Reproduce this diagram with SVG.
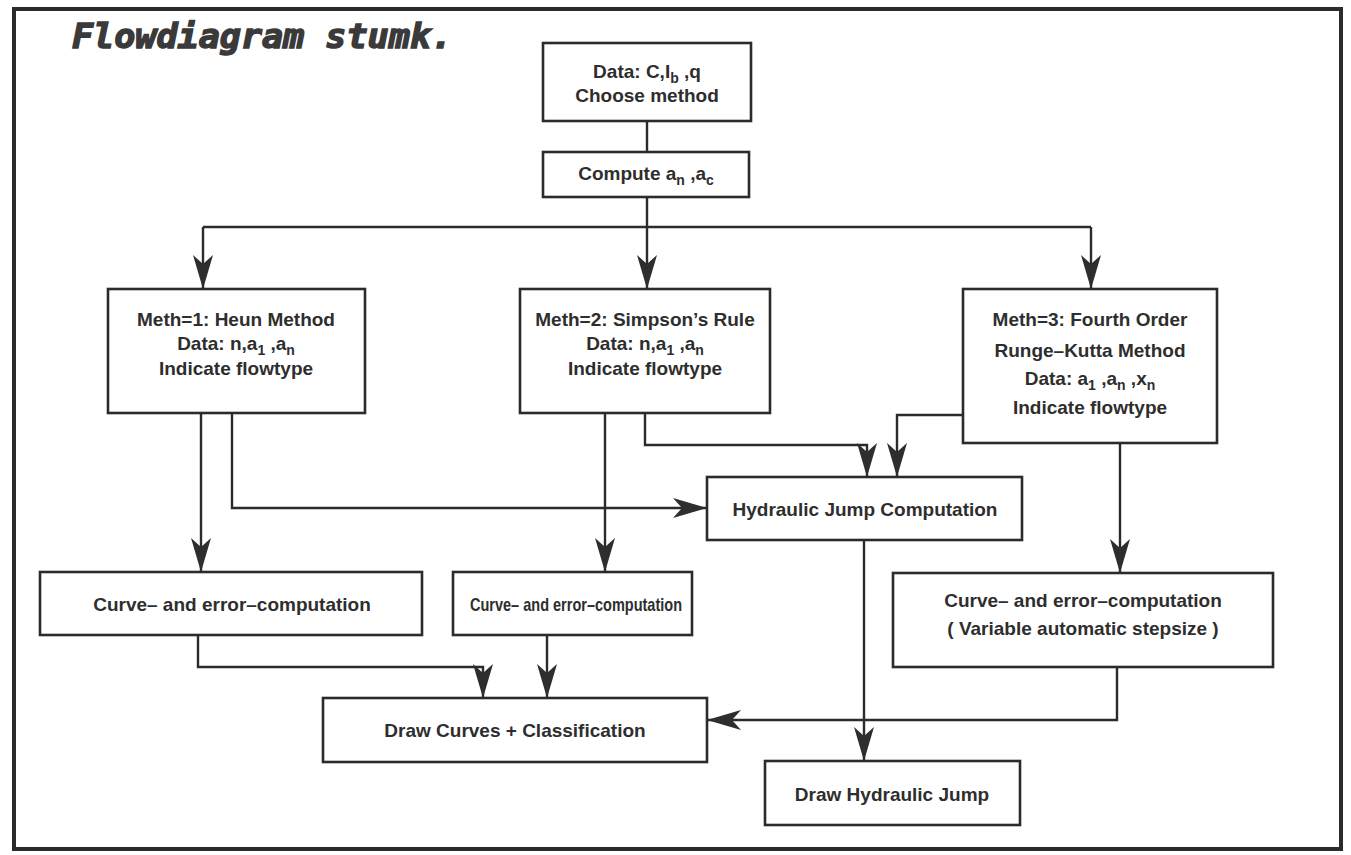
<svg xmlns="http://www.w3.org/2000/svg" width="1351" height="855" viewBox="0 0 1351 855">
  <style>
    .box { fill: #ffffff; stroke: #2b2b2b; stroke-width: 2.6; }
    .wire { fill: none; stroke: #2b2b2b; stroke-width: 2.4; }
    .lbl { font-family: "Liberation Sans", Arial, sans-serif; font-weight: bold; font-size: 19px; fill: #2e2e2e; text-anchor: middle; }
    .sub { font-size: 14px; }
    .title { font-family: "DejaVu Sans Mono", "Liberation Mono", monospace; font-weight: bold; font-style: italic; font-size: 33px; fill: #3a3a3a; stroke: #3a3a3a; stroke-width: 1.4; }
  </style>
  <defs>
    <marker id="arrow" markerUnits="userSpaceOnUse" viewBox="-36 -11 38 22" refX="0" refY="0" markerWidth="38" markerHeight="22" orient="auto">
      <path d="M0,0 L-34,-10 L-25,0 L-34,10 Z" fill="#2e2e2e"/>
    </marker>
  </defs>

  <rect width="1351" height="855" fill="#ffffff"/>
  <!-- frame -->
  <rect x="14" y="9" width="1327" height="840" fill="none" stroke="#2b2b2b" stroke-width="4"/>

  <text class="title" x="72" y="48" textLength="380" lengthAdjust="spacingAndGlyphs">Flowdiagram stumk.</text>

  <!-- connectors -->
  <g id="connectors">
    <path class="wire" d="M647,121 L647,152"/>
    <path class="wire" d="M647,197 L647,289" marker-end="url(#arrow)"/>
    <path class="wire" d="M203,227 L1091,227"/>
    <path class="wire" d="M203,227 L203,289" marker-end="url(#arrow)"/>
    <path class="wire" d="M1091,227 L1091,289" marker-end="url(#arrow)"/>
    <path class="wire" d="M201,413 L201,572" marker-end="url(#arrow)"/>
    <path class="wire" d="M232,413 L232,508 L707,508" marker-end="url(#arrow)"/>
    <path class="wire" d="M605,413 L605,572" marker-end="url(#arrow)"/>
    <path class="wire" d="M645,413 L645,445 L867,445 L867,477" marker-end="url(#arrow)"/>
    <path class="wire" d="M963,415 L897,415 L897,477" marker-end="url(#arrow)"/>
    <path class="wire" d="M1120,443 L1120,573" marker-end="url(#arrow)"/>
    <path class="wire" d="M864,540 L864,761" marker-end="url(#arrow)"/>
    <path class="wire" d="M198,635 L198,667 L483,667 L483,698" marker-end="url(#arrow)"/>
    <path class="wire" d="M547,635 L547,698" marker-end="url(#arrow)"/>
    <path class="wire" d="M1117,667 L1117,720 L707,720" marker-end="url(#arrow)"/>
  </g>

  <g id="data-input">
    <rect class="box" x="543" y="43" width="208" height="78"/>
    <text class="lbl" x="647" y="78">Data: C,I<tspan class="sub" dy="5">b</tspan><tspan dy="-5"> ,q</tspan></text>
    <text class="lbl" x="647" y="102">Choose method</text>
  </g>

  <g id="compute">
    <rect class="box" x="543" y="152" width="206" height="45"/>
    <text class="lbl" x="646" y="180">Compute a<tspan class="sub" dy="5">n</tspan><tspan dy="-5"> ,a</tspan><tspan class="sub" dy="5">c</tspan></text>
  </g>

  <g id="meth1">
    <rect class="box" x="108" y="289" width="257" height="124"/>
    <text class="lbl" x="236" y="326">Meth=1: Heun Method</text>
    <text class="lbl" x="236" y="350">Data: n,a<tspan class="sub" dy="5">1</tspan><tspan dy="-5"> ,a</tspan><tspan class="sub" dy="5">n</tspan></text>
    <text class="lbl" x="236" y="375">Indicate flowtype</text>
  </g>

  <g id="meth2">
    <rect class="box" x="520" y="289" width="250" height="124"/>
    <text class="lbl" x="645" y="326">Meth=2: Simpson’s Rule</text>
    <text class="lbl" x="645" y="350">Data: n,a<tspan class="sub" dy="5">1</tspan><tspan dy="-5"> ,a</tspan><tspan class="sub" dy="5">n</tspan></text>
    <text class="lbl" x="645" y="375">Indicate flowtype</text>
  </g>

  <g id="meth3">
    <rect class="box" x="963" y="289" width="254" height="154"/>
    <text class="lbl" x="1090" y="326">Meth=3: Fourth Order</text>
    <text class="lbl" x="1090" y="357">Runge–Kutta Method</text>
    <text class="lbl" x="1090" y="385">Data: a<tspan class="sub" dy="5">1</tspan><tspan dy="-5"> ,a</tspan><tspan class="sub" dy="5">n</tspan><tspan dy="-5"> ,x</tspan><tspan class="sub" dy="5">n</tspan></text>
    <text class="lbl" x="1090" y="414">Indicate flowtype</text>
  </g>

  <g id="hydraulic-jump">
    <rect class="box" x="707" y="477" width="315" height="63"/>
    <text class="lbl" x="865" y="516">Hydraulic Jump Computation</text>
  </g>

  <g id="curve1">
    <rect class="box" x="40" y="572" width="382" height="63"/>
    <text class="lbl" x="232" y="611">Curve– and error–computation</text>
  </g>

  <g id="curve2">
    <rect class="box" x="453" y="572" width="239" height="63"/>
    <text class="lbl" x="576" y="611" font-size="17" textLength="212" lengthAdjust="spacingAndGlyphs">Curve– and error–computation</text>
  </g>

  <g id="curve3">
    <rect class="box" x="893" y="573" width="380" height="94"/>
    <text class="lbl" x="1083" y="607">Curve– and error–computation</text>
    <text class="lbl" x="1083" y="635">( Variable automatic stepsize )</text>
  </g>

  <g id="draw-curves">
    <rect class="box" x="323" y="698" width="384" height="64"/>
    <text class="lbl" x="515" y="737">Draw Curves + Classification</text>
  </g>

  <g id="draw-jump">
    <rect class="box" x="765" y="761" width="255" height="64"/>
    <text class="lbl" x="892" y="801">Draw Hydraulic Jump</text>
  </g>
</svg>
